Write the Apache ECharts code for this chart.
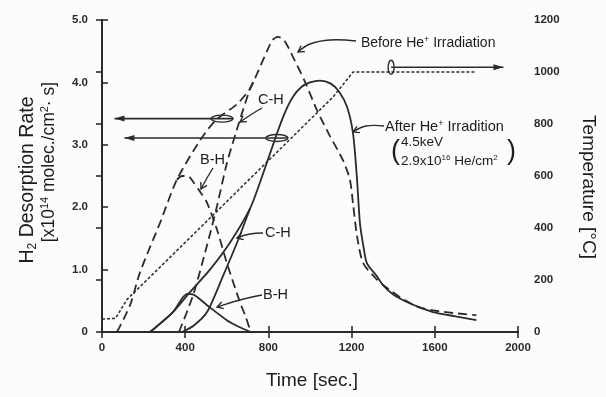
<!DOCTYPE html>
<html>
<head>
<meta charset="utf-8">
<script src="https://cdn.jsdelivr.net/npm/echarts@6/dist/echarts.min.js"></script>
<style>
html, body { margin: 0; padding: 0; background: #fcfcfc; }
#main { width: 606px; height: 397px; }
</style>
</head>
<body>
<div id="main"></div>
<script>
// H2 desorption rate vs time, before / after He+ irradiation
var timeTicks = [0, 400, 800, 1200, 1600, 2000];
var rateTicks = [0, 1.0, 2.0, 3.0, 4.0, 5.0];
var tempTicks = [0, 200, 400, 600, 800, 1000, 1200];

// [time s, rate x10^14]
var beforeTotal = [[72,0],[135,0.43],[183,0.96],[279,1.75],[360,2.44],[471,3.07],[548,3.4],[649,3.65],[712,3.9],[735,4.06],[793,4.5],[820,4.68],[846,4.73],[875,4.68],[918,4.41],[976,4.01],[1034,3.55],[1096,3.14],[1159,2.75],[1192,2.44],[1207,2.05],[1226,1.54],[1255,1.11],[1322,0.84],[1385,0.67],[1450,0.52],[1529,0.39],[1625,0.33],[1700,0.3],[1800,0.27]];
var bhBefore = [[360,2.44],[385,2.5],[413,2.5],[440,2.4],[471,2.25],[505,2.07],[553,1.64],[600,1.11],[663,0.48],[690,0.25],[715,0]];
var chBefore = [[370,0],[438,0.59],[505,1.39],[553,2.02],[600,2.7],[649,3.25],[712,3.9],[735,4.06]];
var afterTotal = [[231,0],[341,0.32],[423,0.64],[519,1.0],[615,1.43],[712,1.98],[760,2.4],[841,3.18],[880,3.52],[918,3.77],[960,3.93],[1000,4.0],[1048,4.03],[1100,3.98],[1140,3.85],[1178,3.61],[1207,3.18],[1226,2.45],[1240,1.75],[1258,1.35],[1274,1.1],[1320,0.9],[1351,0.75],[1400,0.6],[1466,0.48],[1530,0.39],[1591,0.32],[1700,0.25],[1800,0.19]];
var bhAfter = [[231,0],[341,0.32],[409,0.61],[440,0.6],[505,0.43],[600,0.19],[660,0.08],[715,0]];
var chAfter = [[385,0],[440,0.1],[505,0.32],[582,0.9],[649,1.43],[712,1.98]];
// [time s, temperature C]
var temperature = [[0,50],[65,52],[120,125],[519,438],[1111,904],[1207,1000],[1800,1000]];

// horizontal arrows: [ring time, arrow tip time, level]
var rateArrows = [[577, 60, 3.42], [841, 108, 3.11]];
var tempArrow = [1390, 1930, 1018];

var ink = '#2b2b2b';
var font = '"Liberation Sans", Arial, sans-serif';

var myChart = echarts.init(document.getElementById('main'));

function axisBase() {
    return {
        axisLine: { lineStyle: { color: ink, width: 2 } },
        axisTick: { inside: true, length: 6, lineStyle: { color: ink, width: 1.6 } },
        axisLabel: { color: '#2a2a2a', fontSize: 11.5, fontWeight: 'bold', fontFamily: font,
            formatter: function (v) { return String(v); } },
        splitLine: { show: false }
    };
}

function lineSeries(name, data, dash, yIdx) {
    return {
        type: 'line', name: name, data: data, yAxisIndex: yIdx || 0,
        showSymbol: false, smooth: 0.25, animation: false,
        lineStyle: { color: ink, width: dash === 'dot' ? 1.5 : 1.8, type: dash === 'dot' ? [3, 2] : (dash ? [9, 5] : 'solid') }
    };
}

var option = {
    backgroundColor: '#fcfcfc',
    animation: false,
    grid: { left: 102, right: 88, top: 20, bottom: 65 },
    xAxis: [
        Object.assign(axisBase(), { type: 'value', position: 'bottom', min: timeTicks[0], max: timeTicks[timeTicks.length - 1], interval: 400 }),
        Object.assign(axisBase(), { type: 'value', position: 'top', min: timeTicks[0], max: timeTicks[timeTicks.length - 1], interval: 400 })
    ],
    yAxis: [
        Object.assign(axisBase(), { type: 'value', position: 'left', min: 0, max: rateTicks[rateTicks.length - 1], interval: 1 }),
        Object.assign(axisBase(), { type: 'value', position: 'right', min: 0, max: tempTicks[tempTicks.length - 1], interval: 200 })
    ],
    series: [
        lineSeries('before', beforeTotal, true),
        lineSeries('B-H before', bhBefore, true),
        lineSeries('C-H before', chBefore, true),
        lineSeries('after', afterTotal, false),
        lineSeries('B-H after', bhAfter, false),
        lineSeries('C-H after', chAfter, false),
        Object.assign(lineSeries('temp', temperature, 'dot', 1), { smooth: false })
    ]
};
option.xAxis[0].axisLabel.margin = 10;
option.xAxis[1].axisLabel.show = false;
option.yAxis[0].axisLabel.margin = 14;
option.yAxis[0].axisLabel.formatter = function (v) { return v === 0 ? '0' : v.toFixed(1); };
option.yAxis[1].axisLabel.margin = 16;

myChart.setOption(option);

function px(t, v, yi) {
    return myChart.convertToPixel({ xAxisIndex: 0, yAxisIndex: yi }, [t, v]);
}

var g = [];
function txt(x, y, rich, size, opts) {
    opts = opts || {};
    g.push({
        type: 'text', x: x, y: y, rotation: opts.rot || 0,
        style: {
            text: rich, fill: '#1c1c1c', font: (opts.weight || 'normal') + ' ' + size + 'px ' + font,
            align: opts.align || 'left', verticalAlign: 'middle',
            rich: {
                sup: { fontSize: Math.round(size * 0.62), verticalAlign: 'top', padding: [0, 0, size * 0.45, 0], fontFamily: font, fill: '#1c1c1c' },
                sub: { fontSize: Math.round(size * 0.62), padding: [size * 0.45, 0, 0, 0], fontFamily: font, fill: '#1c1c1c' }
            }
        }
    });
}
function leader(pts) {
    g.push({ type: 'polyline', shape: { points: pts, smooth: 0.4 }, style: { stroke: ink, lineWidth: 1.4, fill: 'none' } });
    var p = pts[pts.length - 2], q = pts[pts.length - 1];
    var dx = q[0] - p[0], dy = q[1] - p[1], L = Math.sqrt(dx * dx + dy * dy);
    dx /= L; dy /= L;
    var a = 6, w = 3.5;
    g.push({ type: 'polyline', shape: { points: [
        [q[0] - dx * a - dy * w, q[1] - dy * a + dx * w], q, [q[0] - dx * a + dy * w, q[1] - dy * a - dx * w]
    ] }, style: { stroke: ink, lineWidth: 1.4, fill: 'none' } });
}
function longArrow(a, b, ring, vertical) {
    g.push({ type: 'line', shape: { x1: a[0], y1: a[1], x2: b[0], y2: b[1] }, style: { stroke: ink, lineWidth: 1.6 } });
    var s = b[0] < a[0] ? 1 : -1;
    g.push({ type: 'polygon', shape: { points: [[b[0], b[1]], [b[0] + s * 10, b[1] - 3], [b[0] + s * 10, b[1] + 3]] }, style: { fill: ink } });
    g.push({ type: 'ellipse', shape: { cx: ring[0], cy: ring[1], rx: vertical ? 3 : 11, ry: vertical ? 7 : 3.5 }, style: { fill: 'none', stroke: ink, lineWidth: 1.4 } });
}

rateArrows.forEach(function (r) {
    var ring = px(r[0], r[2], 0);
    longArrow([ring[0] + 11, ring[1]], px(r[1], r[2], 0), ring, false);
});
var tr = px(tempArrow[0], tempArrow[2], 1);
longArrow(tr, px(tempArrow[1], tempArrow[2], 1), tr, true);

// labels and leaders
txt(361, 43, 'Before He{sup|+} Irradiation', 14);
leader([[356, 41], [330, 40], [310, 44], [298, 52]]);
txt(385, 127, 'After He{sup|+} Irradition', 14.5);
leader([[384, 126], [366, 126], [353, 132]]);
txt(391, 152, '(', 27);
txt(401, 142, '4.5keV', 13.5);
txt(401, 161, '2.9x10{sup|16} He/cm{sup|2}', 13.5);
txt(507, 152, ')', 27);
txt(258, 100, 'C-H', 14.5);
leader([[262, 108], [252, 114], [240, 122]]);
txt(200, 160, 'B-H', 14.5);
leader([[213, 168], [207, 178], [201, 189]]);
txt(265, 233, 'C-H', 14.5);
leader([[263, 233], [250, 234], [237, 238]]);
txt(263, 295, 'B-H', 14.5);
leader([[262, 295], [240, 300], [217, 307]]);

// axis titles
txt(312, 381, 'Time [sec.]', 19, { align: 'center' });
txt(28, 180, 'H{sub|2} Desorption Rate', 19.5, { align: 'center', rot: Math.PI / 2 });
txt(49, 162, '[x10{sup|14} molec./cm{sup|2}· s]', 17.5, { align: 'center', rot: Math.PI / 2 });
txt(588, 187, 'Temperature [°C]', 19, { align: 'center', rot: -Math.PI / 2 });

myChart.setOption({ graphic: g });
</script>
</body>
</html>
